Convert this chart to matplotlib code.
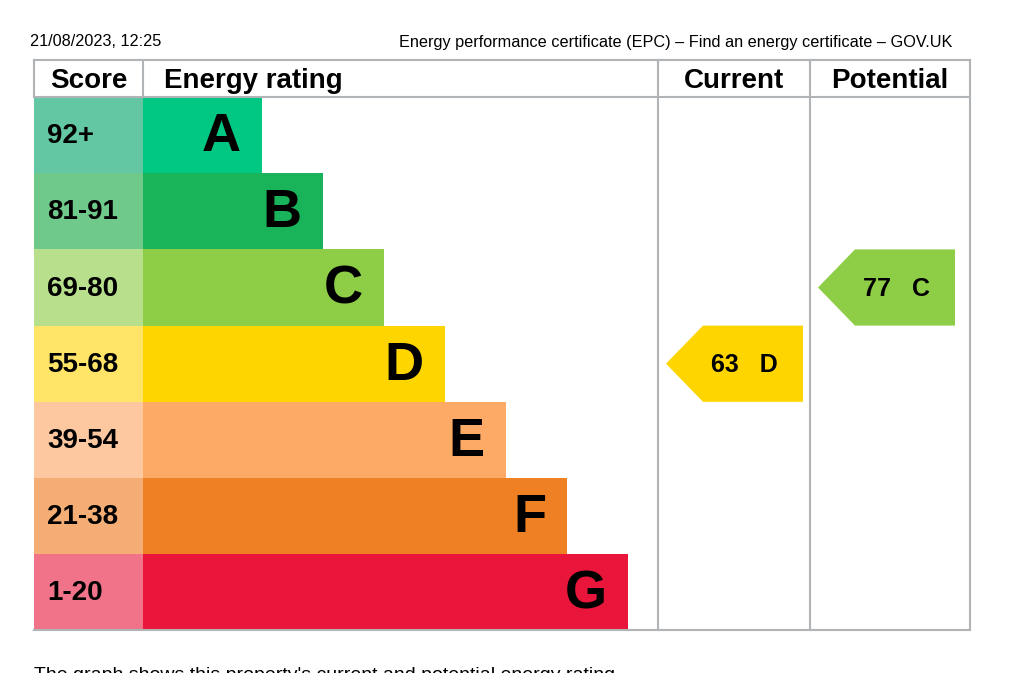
import matplotlib
matplotlib.use('Agg')
import matplotlib.pyplot as plt
from matplotlib.patches import Rectangle, Polygon

plt.rcParams['font.family'] = ['Liberation Sans', 'DejaVu Sans']

# EPC bands, top to bottom
letters = ['A', 'B', 'C', 'D', 'E', 'F', 'G']
scores = ['92+', '81-91', '69-80', '55-68', '39-54', '21-38', '1-20']
band_min = [92, 81, 69, 55, 39, 21, 1]
bar_len = [1, 2, 3, 4, 5, 6, 7]  # relative bar lengths
bar_colors = ['#00c781', '#19b459', '#8dce46', '#ffd500', '#fcaa65', '#ef8023', '#e9153b']
score_colors = ['#64c7a3', '#6fc98a', '#b8e08c', '#ffe467', '#fdc8a0', '#f4ad74', '#f07389']

current = 63
potential = 77

header_left = '21/08/2023, 12:25'
header_right = 'Energy performance certificate (EPC) \u2013 Find an energy certificate \u2013 GOV.UK'
footer = "The graph shows this property's current and potential energy rating."


def band_index(score):
    for i, m in enumerate(band_min):
        if score >= m:
            return i
    return len(band_min) - 1


W, H = 1024, 673
fig = plt.figure(figsize=(W / 100, H / 100), dpi=100)
ax = fig.add_axes([0, 0, 1, 1])
ax.set_xlim(0, W)
ax.set_ylim(H, 0)
ax.axis('off')

# table geometry (pixels)
left, score_r, cur_l, pot_l, right = 34, 143, 658, 810, 970
top, head_b = 60, 97
row_h = 76.2
bar_step = 61
bottom = head_b + row_h * len(letters)
grid = '#b1b4b6'

for i, (let, sc) in enumerate(zip(letters, scores)):
    y0 = head_b + i * row_h
    ax.add_patch(Rectangle((left, y0), score_r - left, row_h, color=score_colors[i], lw=0))
    x1 = score_r + 58 + bar_step * bar_len[i]
    ax.add_patch(Rectangle((score_r, y0), x1 - score_r, row_h, color=bar_colors[i], lw=0))
    ax.text(47, y0 + row_h / 2 + 1, sc, fontsize=20, fontweight='bold', va='center', ha='left')
    ax.text(x1 - 21, y0 + row_h / 2 + 2, let, fontsize=39, fontweight='bold', va='center', ha='right')

# grid lines
kw = dict(color=grid, lw=1.5)
ax.plot([left, right], [top, top], **kw)
ax.plot([left, right], [head_b, head_b], **kw)
ax.plot([left, right], [bottom, bottom], **kw)
ax.plot([left, left], [top, head_b], **kw)
ax.plot([score_r, score_r], [top, head_b], **kw)
for x in (cur_l, pot_l, right):
    ax.plot([x, x], [top, bottom], **kw)

# column headers
hy = (top + head_b) / 2 + 3
ax.text((left + score_r) / 2, hy, 'Score', fontsize=20, fontweight='bold', ha='center', va='center')
ax.text(164, hy, 'Energy rating', fontsize=20, fontweight='bold', ha='left', va='center')
ax.text((cur_l + pot_l) / 2, hy, 'Current', fontsize=20, fontweight='bold', ha='center', va='center')
ax.text((pot_l + right) / 2, hy, 'Potential', fontsize=20, fontweight='bold', ha='center', va='center')


def arrow(col_l, value):
    i = band_index(value)
    y0 = head_b + i * row_h
    y1 = y0 + row_h
    tip = col_l + 8
    body = tip + 37
    end = tip + 137
    pts = [(body, y0), (end, y0), (end, y1), (body, y1), (tip, (y0 + y1) / 2)]
    ax.add_patch(Polygon(pts, closed=True, color=bar_colors[i], lw=0))
    ax.text(tip + 45, (y0 + y1) / 2 + 1, '%d   %s' % (value, letters[i]),
            fontsize=18, fontweight='bold', ha='left', va='center')


arrow(cur_l, current)
arrow(pot_l, potential)

# page header / footer text
ax.text(30, 42, header_left, fontsize=11.7, ha='left', va='center')
ax.text(952, 42, header_right, fontsize=11.7, ha='right', va='center')
ax.text(34, 667, footer, fontsize=14, ha='left', va='top')

fig.savefig('out.png', dpi=100)
